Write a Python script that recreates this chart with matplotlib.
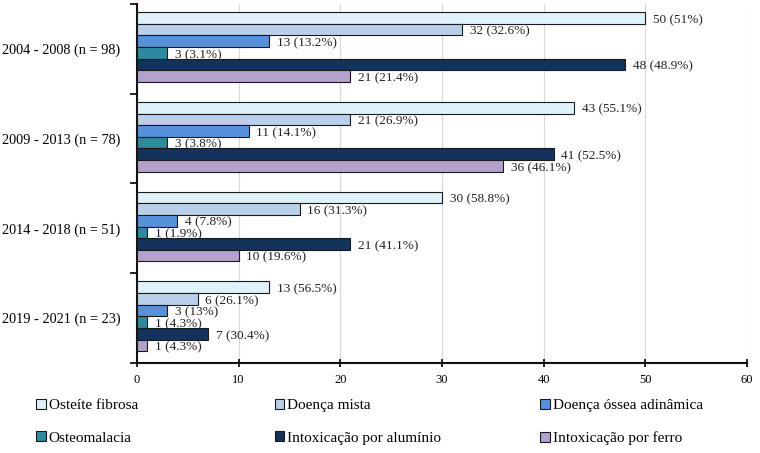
import numpy as np
import matplotlib.pyplot as plt

plt.rcParams["font.family"] = ["Liberation Serif", "DejaVu Serif"]

periods = ["2004 - 2008 (n = 98)", "2009 - 2013 (n = 78)",
           "2014 - 2018 (n = 51)", "2019 - 2021 (n = 23)"]
series = ["Osteíte fibrosa", "Doença mista", "Doença óssea adinâmica",
          "Osteomalacia", "Intoxicação por alumínio", "Intoxicação por ferro"]
counts = [
    [50, 43, 30, 13],
    [32, 21, 16, 6],
    [13, 11, 4, 3],
    [3, 3, 1, 1],
    [48, 41, 21, 7],
    [21, 36, 10, 1],
]
pcts = [
    ["51%", "55.1%", "58.8%", "56.5%"],
    ["32.6%", "26.9%", "31.3%", "26.1%"],
    ["13.2%", "14.1%", "7.8%", "13%"],
    ["3.1%", "3.8%", "1.9%", "4.3%"],
    ["48.9%", "52.5%", "41.1%", "30.4%"],
    ["21.4%", "46.1%", "19.6%", "4.3%"],
]
colors = ["#dff2fa", "#b9cfea", "#5891db", "#2e8a9e", "#13325c", "#b3a2cc"]

fig = plt.figure(figsize=(7.6, 4.53), dpi=100)
ax = fig.add_axes([0.180, 0.199, 0.803, 0.792])

bar_h = 0.13
centers = np.arange(len(periods)) - 0.02
handles = []
for i, name in enumerate(series):
    y = centers + (i - 2.5) * bar_h
    h = ax.barh(y, counts[i], height=bar_h, color=colors[i],
                edgecolor="#1a1a1a", linewidth=0.8, label=name, zorder=3)
    handles.append(h)
    for yy, v, p in zip(y, counts[i], pcts[i]):
        ax.annotate(f"{v} ({p})", (v, yy), xytext=(5.5, -1.5),
                    textcoords="offset points", ha="left", va="center",
                    fontsize=9.5, color="#222222", zorder=4)

ax.set_ylim(3.5, -0.5)
ax.set_xlim(0, 60)
ax.set_xticks(range(0, 61, 10))
ax.set_yticks(range(len(periods)))
ax.set_yticklabels(periods, fontsize=10.3)
ax.set_yticks(np.arange(-0.5, 4.0, 1.0), minor=True)
ax.tick_params(axis="y", which="major", length=0, pad=12)
ax.tick_params(axis="y", which="minor", length=5, width=1.2, direction="out")
ax.tick_params(axis="x", length=6, width=1.2, direction="inout", labelsize=9, pad=5)
ax.xaxis.grid(True, color="#d9d9d9", linewidth=0.9, zorder=0)
ax.set_axisbelow(True)
for s in ["top", "right"]:
    ax.spines[s].set_visible(False)
for s in ["left", "bottom"]:
    ax.spines[s].set_linewidth(1.5)
    ax.spines[s].set_color("#111111")

# legend: three columns placed separately
col_x = [0.048, 0.362, 0.711]
for c in range(3):
    leg = fig.legend(handles=[handles[c], handles[c + 3]],
                     labels=[series[c], series[c + 3]],
                     loc="upper left", bbox_to_anchor=(col_x[c], 0.119),
                     frameon=False, fontsize=11, handlelength=0.6,
                     handleheight=0.6, handletextpad=0.2,
                     labelspacing=1.25, borderaxespad=0, borderpad=0)

fig.savefig("out.png", dpi=100)
